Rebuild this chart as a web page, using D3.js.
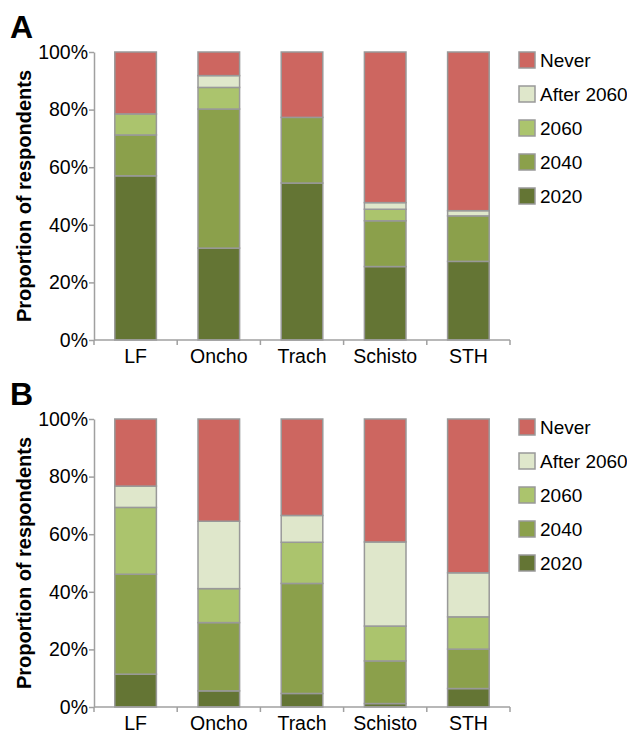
<!DOCTYPE html>
<html><head><meta charset="utf-8">
<script src="https://cdn.jsdelivr.net/npm/d3@7"></script>
<style>body{margin:0;background:#fff}svg{display:block}</style>
</head><body>
<svg id="c" width="627" height="735"></svg>
<script>
const categories = ["LF","Oncho","Trach","Schisto","STH"];
const seriesNames = ["2020","2040","2060","After 2060","Never"];
const legendOrder = ["Never","After 2060","2060","2040","2020"];
const colors = ["#647534","#8ba04b","#abc46d","#dfe7cb","#cd6660"];
const yTicks = [0,20,40,60,80,100];
// Panel A values (%), per category, in series order 2020, 2040, 2060, After 2060, Never
const a2020 = [57.0, 31.9, 54.5, 25.5, 27.3];
const a2040 = [14.2, 48.3, 22.8, 15.9, 15.8];
const a2060 = [7.3, 7.5, 0, 4.0, 0];
const aAfter = [0, 4.1, 0, 2.3, 1.8];
const aNever = [21.5, 8.2, 22.7, 52.3, 55.1];
// Panel B values (%)
const b2020 = [11.4, 5.6, 4.7, 1.2, 6.4];
const b2040 = [34.7, 23.7, 38.2, 14.8, 13.7];
const b2060 = [23.2, 11.8, 14.3, 12.1, 11.2];
const bAfter = [7.4, 23.4, 9.3, 29.2, 15.3];
const bNever = [23.3, 35.5, 33.5, 42.7, 53.4];

const panels = [
  {label:"A", top:52, series:[a2020,a2040,a2060,aAfter,aNever]},
  {label:"B", top:419, series:[b2020,b2040,b2060,bAfter,bNever]}
];
const font = "'Liberation Sans', Arial, sans-serif";
const svg = d3.select("#c");
const left = 94, right = 510, plotH = 288;
const axisColor = "#a0a0a0";

panels.forEach(p => {
  const g = svg.append("g");
  const y = d3.scaleLinear().domain([0,100]).range([p.top+plotH, p.top]);
  const x = d3.scaleBand().domain(categories).range([left,right]).paddingInner(0.5).paddingOuter(0.25);
  const xb = d3.scaleBand().domain(categories).range([left,right]);
  const rows = categories.map((c,i)=>{const o={cat:c}; seriesNames.forEach((s,j)=>o[s]=p.series[j][i]); return o;});
  const stack = d3.stack().keys(seriesNames)(rows);
  stack.forEach((layer,j)=>{
    g.selectAll(null).data(layer.filter(d=>d[1]-d[0]>0)).enter().append("rect")
      .attr("x", d=>x(d.data.cat)).attr("width", x.bandwidth())
      .attr("y", d=>y(d[1])).attr("height", d=>y(d[0])-y(d[1]))
      .attr("fill", colors[j]).attr("stroke", "#999").attr("stroke-width", 1.5);
  });
  // y axis
  const ya = g.append("g").attr("transform",`translate(${left},0)`)
    .call(d3.axisLeft(y).tickValues(yTicks).tickFormat(d=>d+"%").tickSize(5).tickSizeOuter(0));
  ya.select(".domain").attr("stroke",axisColor).attr("stroke-width",1.5);
  ya.selectAll(".tick line").attr("stroke",axisColor).attr("stroke-width",1.5);
  ya.selectAll(".tick text").attr("font-family",font).attr("font-size",19.5).attr("fill","#000").attr("x",-6);
  // x axis
  const xa = g.append("g").attr("transform",`translate(0,${p.top+plotH})`);
  xa.append("line").attr("x1",left).attr("x2",right).attr("stroke",axisColor).attr("stroke-width",1.5);
  const bounds = categories.map(c=>xb(c)).concat([right]);
  xa.selectAll(null).data(bounds).enter().append("line")
    .attr("x1",d=>d).attr("x2",d=>d).attr("y1",0).attr("y2",5).attr("stroke",axisColor).attr("stroke-width",1.5);
  xa.selectAll(null).data(categories).enter().append("text")
    .attr("x",d=>xb(d)+xb.bandwidth()/2).attr("y",23).attr("text-anchor","middle")
    .attr("font-family",font).attr("font-size",19.5).attr("fill","#000").text(d=>d);
  // y title
  g.append("text").attr("transform",`translate(31,${p.top+plotH/2}) rotate(-90)`)
    .attr("text-anchor","middle").attr("font-family",font).attr("font-weight","bold")
    .attr("font-size",20).attr("fill","#000").text("Proportion of respondents");
  // panel label
  g.append("text").attr("x",10).attr("y",p.top-14).attr("font-family",font).attr("font-weight","bold")
    .attr("font-size",32).attr("fill","#000").text(p.label);
  // legend
  const lg = g.append("g").attr("transform",`translate(519,${p.top})`);
  legendOrder.forEach((name,i)=>{
    const j = seriesNames.indexOf(name);
    lg.append("rect").attr("x",0).attr("y",i*34).attr("width",16).attr("height",16)
      .attr("fill",colors[j]).attr("stroke","#999").attr("stroke-width",1.5);
    lg.append("text").attr("x",21).attr("y",i*34+15).attr("font-family",font).attr("font-size",19)
      .attr("fill","#000").text(name);
  });
});
</script>
</body></html>
